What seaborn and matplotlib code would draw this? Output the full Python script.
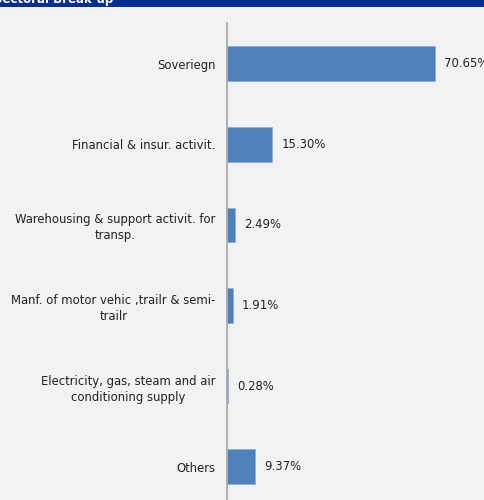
import matplotlib
matplotlib.use("Agg")
import matplotlib.pyplot as plt
import seaborn as sns
import pandas as pd
from matplotlib.patches import Rectangle

categories = [
    "Soveriegn",
    "Financial & insur. activit.",
    "Warehousing & support activit. for\ntransp.",
    "Manf. of motor vehic ,trailr & semi-\ntrailr",
    "Electricity, gas, steam and air\nconditioning supply",
    "Others",
]
values = [70.65, 15.30, 2.49, 1.91, 0.28, 9.37]
value_labels = ["70.65%", "15.30%", "2.49%", "1.91%", "0.28%", "9.37%"]
title = "Sectoral Break-up"

sns.set_style("white")
plt.rcParams["font.family"] = ["DejaVu Sans"]

bg = "#F2F2F2"
fig = plt.figure(figsize=(4.85, 5.0), dpi=100, facecolor=bg)
ax = fig.add_axes([227.5 / 485, -7 / 500, 258 / 485, 483.6 / 500])
ax.set_facecolor(bg)

df = pd.DataFrame({"cat": categories, "val": values})
sns.barplot(data=df, x="val", y="cat", orient="h", color="#4F81BD",
            saturation=1, width=0.43, edgecolor="#8DB0DC", linewidth=0.6, ax=ax)

ax.set_xlim(0, 88)
ax.set_ylim(5.5, -0.5)
ax.set_xlabel("")
ax.set_ylabel("")
ax.set_xticks([])

ax.set_yticks(range(len(categories)))
ax.set_yticklabels(categories, fontsize=8.4, color="#222222", multialignment="center",
                   linespacing=1.3)
ax.tick_params(axis="y", which="major", length=0, pad=8.5)
ax.set_yticks([i - 0.5 for i in range(len(categories) + 1)], minor=True)
ax.tick_params(axis="y", which="minor", length=4, width=1, color="#A6A6A6")

for s in ["top", "right", "bottom"]:
    ax.spines[s].set_visible(False)
ax.spines["left"].set_color("#A6A6A6")
ax.spines["left"].set_linewidth(1.2)

for i, (v, lab) in enumerate(zip(values, value_labels)):
    ax.annotate(lab, xy=(v, i), xytext=(6.5, 0), textcoords="offset points",
                va="center", ha="left", fontsize=8.4, color="#222222")

fig.patches.append(Rectangle((0, 1 - 7 / 500), 1, 7 / 500, transform=fig.transFigure,
                             facecolor="#062E91", edgecolor="none", zorder=0))
fig.text(-0.012, 1 - 3 / 500, title, color="white", fontsize=8.5, fontweight="bold",
         va="baseline", ha="left")

fig.savefig("out.png", dpi=100, facecolor=bg)
